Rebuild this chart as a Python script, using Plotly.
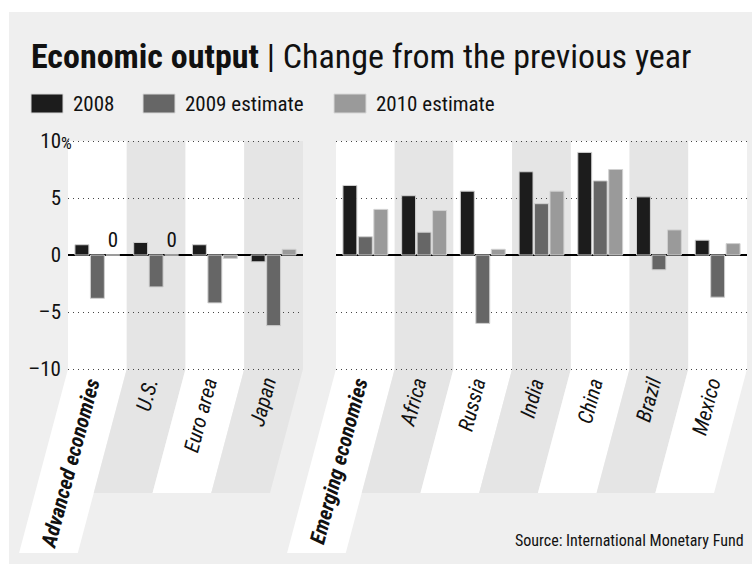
import plotly.graph_objects as go

# ---------------- data ----------------
adv_categories = ["Advanced economies", "U.S.", "Euro area", "Japan"]
adv_2008 = [0.9, 1.1, 0.9, -0.6]
adv_2009 = [-3.8, -2.8, -4.2, -6.2]
adv_2010 = [0.0, 0.0, -0.3, 0.5]

emg_categories = ["Emerging economies", "Africa", "Russia", "India", "China", "Brazil", "Mexico"]
emg_2008 = [6.1, 5.2, 5.6, 7.3, 9.0, 5.1, 1.3]
emg_2009 = [1.6, 2.0, -6.0, 4.5, 6.5, -1.3, -3.7]
emg_2010 = [4.0, 3.9, 0.5, 5.6, 7.5, 2.2, 1.0]

series_names = ["2008", "2009 estimate", "2010 estimate"]
series_colors = ["#1c1c1c", "#666666", "#9a9a9a"]

y_tickvals = [10, 5, 0, -5, -10]
y_ticktext = ["10", "5", "0", "–5", "–10"]

title_bold = "Economic output"
title_rest = "Change from the previous year"
source_text = "Source: International Monetary Fund"

# ---------------- styling ----------------
FONT = "Roboto Condensed, Roboto, sans-serif"
W, H = 752, 564
BG = "#efefef"
BAND_GRAY = "#e5e5e5"
INK = "#111111"

def px_x(p):
    return p / W

def px_y(p):
    return 1 - p / H

# y range padded slightly so the +/-10 gridlines are drawn
Y_PAD = 0.1
plot_top, plot_bot = 141, 369
px_per_unit = (plot_bot - plot_top) / 20.0
pad_px = Y_PAD * px_per_unit

left_dom = [px_x(68), px_x(303)]
right_dom = [px_x(336), px_x(747)]
y_dom = [px_y(plot_bot + pad_px), px_y(plot_top - pad_px)]

fig = go.Figure()

adv_series = [adv_2008, adv_2009, adv_2010]
emg_series = [emg_2008, emg_2009, emg_2010]

for k in range(3):
    vals = adv_series[k]
    fig.add_trace(go.Bar(
        x=adv_categories, y=vals, name=series_names[k],
        marker=dict(color=series_colors[k], line=dict(color="#d0d0d0", width=1)),
        text=["0" if v == 0 else "" for v in vals],
        textposition="outside", cliponaxis=False,
        textfont=dict(family=FONT, size=21, color=INK),
        xaxis="x", yaxis="y", showlegend=False, hoverinfo="x+y"))
for k in range(3):
    vals = emg_series[k]
    fig.add_trace(go.Bar(
        x=emg_categories, y=vals, name=series_names[k],
        marker=dict(color=series_colors[k], line=dict(color="#d0d0d0", width=1)),
        xaxis="x2", yaxis="y2", showlegend=False, hoverinfo="x+y"))

# ---------------- background & bands ----------------
shapes = [dict(type="rect", xref="paper", yref="paper", x0=px_x(9), x1=1,
               y0=0, y1=px_y(12), fillcolor=BG, line=dict(width=0), layer="below")]

SLOPE = 0.266
short_end, long_end = 493, 553

def band_shapes(cats, dom):
    out = []
    n = len(cats)
    x0p, x1p = dom[0] * W, dom[1] * W
    cw = (x1p - x0p) / n
    for i in range(n):
        l = x0p + i * cw
        r = l + cw
        end = long_end if i == 0 else short_end
        s = SLOPE * (end - plot_bot)
        color = "#ffffff" if i % 2 == 0 else BAND_GRAY
        path = (f"M {px_x(l)},{px_y(plot_top)} L {px_x(r)},{px_y(plot_top)} "
                f"L {px_x(r)},{px_y(plot_bot)} L {px_x(r - s)},{px_y(end)} "
                f"L {px_x(l - s)},{px_y(end)} L {px_x(l)},{px_y(plot_bot)} Z")
        out.append(dict(type="path", xref="paper", yref="paper", path=path,
                        fillcolor=color, line=dict(width=0), layer="below"))
    return out

shapes += band_shapes(adv_categories, left_dom)
shapes += band_shapes(emg_categories, right_dom)

# legend squares
legend_x = [31, 143, 334]
for k in range(3):
    shapes.append(dict(type="rect", xref="paper", yref="paper",
                       x0=px_x(legend_x[k]), x1=px_x(legend_x[k] + 32),
                       y0=px_y(113), y1=px_y(94),
                       fillcolor=series_colors[k], line=dict(color="#d8d8d8", width=1)))

annotations = []
annotations.append(dict(
    x=px_x(29), y=px_y(56), xref="paper", yref="paper", xanchor="left", yanchor="middle",
    text=f"<b>{title_bold}</b> | {title_rest}", showarrow=False,
    font=dict(family=FONT, size=34, color=INK)))
for k in range(3):
    annotations.append(dict(
        x=px_x(legend_x[k] + 40), y=px_y(104), xref="paper", yref="paper",
        xanchor="left", yanchor="middle", text=series_names[k], showarrow=False,
        font=dict(family=FONT, size=21, color=INK)))
annotations.append(dict(
    x=px_x(66), y=px_y(143), xref="paper", yref="paper", xanchor="center", yanchor="middle",
    text="%", showarrow=False, font=dict(family=FONT, size=17, color=INK)))
annotations.append(dict(
    x=px_x(746), y=px_y(540), xref="paper", yref="paper", xanchor="right", yanchor="middle",
    text=source_text, showarrow=False, font=dict(family=FONT, size=16, color=INK)))

def cat_labels(cats, xref):
    out = []
    for i, c in enumerate(cats):
        txt = f"<b><i>{c}</i></b>" if i == 0 else f"<i>{c}</i>"
        out.append(dict(x=c, y=px_y(373), xref=xref, yref="paper", xanchor="right",
                        yanchor="top", xshift=10, text=txt, textangle=-75, showarrow=False,
                        font=dict(family=FONT, size=21, color=INK)))
    return out

annotations += cat_labels(adv_categories, "x")
annotations += cat_labels(emg_categories, "x2")

axis_common = dict(range=[-10 - Y_PAD, 10 + Y_PAD], autorange=False, domain=y_dom,
                   tickvals=y_tickvals,
                   showgrid=True, gridcolor="#444", gridwidth=1, griddash="1px,4px",
                   zeroline=True, zerolinecolor="#000", zerolinewidth=2,
                   showline=False, ticks="", fixedrange=True)

fig.update_layout(
    width=W, height=H, margin=dict(l=0, r=0, t=0, b=0, autoexpand=False),
    paper_bgcolor="#ffffff", plot_bgcolor="rgba(0,0,0,0)",
    barmode="group", bargap=0.21, bargroupgap=0.1,
    showlegend=False,
    xaxis=dict(domain=left_dom, anchor="y", range=[-0.5, len(adv_categories) - 0.5],
               autorange=False, showticklabels=False, showgrid=False,
               showline=False, ticks="", fixedrange=True),
    xaxis2=dict(domain=right_dom, anchor="y2", range=[-0.5, len(emg_categories) - 0.5],
                autorange=False, showticklabels=False, showgrid=False,
                showline=False, ticks="", fixedrange=True),
    yaxis=dict(anchor="x", ticktext=y_ticktext, showticklabels=True,
               ticklabelstandoff=6,
               tickfont=dict(family=FONT, size=21, color=INK), **axis_common),
    yaxis2=dict(anchor="x2", showticklabels=False, **axis_common),
    shapes=shapes, annotations=annotations,
    font=dict(family=FONT, color=INK),
)

fig.write_html("out.html", config={"displayModeBar": False},
               post_script="document.body.style.margin='0';")
